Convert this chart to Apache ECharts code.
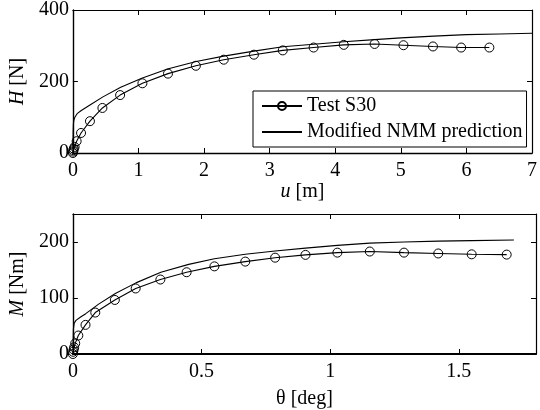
<!DOCTYPE html>
<html>
<head>
<meta charset="utf-8">
<script src="https://cdn.jsdelivr.net/npm/echarts@6/dist/echarts.min.js"></script>
<style>
  html, body { margin: 0; padding: 0; background: #fff; }
  #chart { width: 540px; height: 410px; }
</style>
</head>
<body>
<div id="chart"></div>
<script>
// Horizontal load H [N] against displacement u [m]
const testU = [0, 0.004, 0.008, 0.013, 0.026, 0.057, 0.124, 0.26, 0.45, 0.72, 1.06, 1.45, 1.875, 2.30, 2.76, 3.20, 3.67, 4.13, 4.60, 5.04, 5.49, 5.92, 6.35];
const testH = [0, 4, 8, 12, 17, 33, 56, 89, 126, 162, 195, 222, 244, 261, 275, 287, 295, 302.5, 305, 301.5, 298, 295, 295];
const predU = [0, 0.004, 0.008, 0.015, 0.03, 0.064, 0.128, 0.266, 0.458, 0.729, 1.06, 1.443, 1.88, 2.3, 2.76, 3.2, 3.67, 4.13, 4.6, 5.0, 5.5, 6.0, 6.5, 7.0];
const predH = [0, 60, 82, 92, 100, 110, 119, 135, 157, 184, 210, 235, 256, 271, 285, 297, 304, 311, 317, 322, 327, 331, 333, 335];

// Moment M [Nm] against rotation theta [deg]
const testT = [0, 0.001, 0.003, 0.005, 0.009, 0.021, 0.049, 0.087, 0.163, 0.244, 0.34, 0.442, 0.55, 0.67, 0.786, 0.904, 1.028, 1.154, 1.287, 1.42, 1.55, 1.686];
const testM = [0, 4, 8, 12, 19, 33, 52, 74, 96.5, 117, 133, 146, 156.5, 165, 172, 177, 181, 183, 181, 179.5, 178, 177.5];
const predT = [0, 0.002, 0.005, 0.012, 0.03, 0.05, 0.1, 0.165, 0.245, 0.342, 0.45, 0.55, 0.67, 0.786, 0.904, 1.028, 1.154, 1.287, 1.42, 1.55, 1.714];
const predM = [0, 45, 55, 60, 66, 72, 89, 108, 127, 146, 160, 170, 178, 184, 189, 194, 198, 200, 201.5, 202.5, 203.5];

const seriesNames = ['Test S30', 'Modified NMM prediction'];
const uTicks = { min: 0, max: 7, interval: 1 };
const hTicks = { min: 0, max: 400, interval: 200 };
const tTicks = { min: 0, max: 1.8, interval: 0.5 };
const mTicks = { min: 0, max: 250, interval: 100 };

const FONT = 'Liberation Serif';
const zip = (a, b) => a.map((v, i) => [v, b[i]]);

const textStyle = { fontFamily: FONT, fontSize: 20, color: '#000' };
const nameStyle = Object.assign({}, textStyle, {
  rich: {
    i: { fontFamily: FONT, fontSize: 20, fontStyle: 'italic', color: '#000' },
    n: { fontFamily: FONT, fontSize: 20, color: '#000' }
  }
});

function mainX(grid, range, name, lineWidth, gap) {
  return Object.assign({
    type: 'value', gridIndex: grid, position: 'bottom',
    name: name, nameLocation: 'middle', nameGap: gap, nameTextStyle: nameStyle,
    axisLine: { show: true, onZero: false, lineStyle: { color: '#000', width: lineWidth } },
    axisTick: { show: true, inside: true, length: 5, lineStyle: { color: '#000', width: 1 } },
    axisLabel: Object.assign({ margin: 8, showMaxLabel: range.max % range.interval === 0 }, textStyle),
    splitLine: { show: false }
  }, range);
}
function mirrorX(grid, range) {
  return Object.assign({
    type: 'value', gridIndex: grid, position: 'top',
    axisLine: { show: true, onZero: false, lineStyle: { color: '#000', width: 1.2 } },
    axisTick: { show: true, inside: true, length: 5, lineStyle: { color: '#000', width: 1 } },
    axisLabel: { show: false }, splitLine: { show: false }
  }, range);
}
function mainY(grid, range, name) {
  return Object.assign({
    type: 'value', gridIndex: grid, position: 'left',
    name: name, nameLocation: 'middle', nameGap: 44, nameTextStyle: nameStyle,
    axisLine: { show: true, onZero: false, lineStyle: { color: '#000', width: 1.4 } },
    axisTick: { show: true, inside: true, length: 5, lineStyle: { color: '#000', width: 1 } },
    axisLabel: Object.assign({ margin: 4, showMaxLabel: range.max % range.interval === 0 }, textStyle),
    splitLine: { show: false }
  }, range);
}
function mirrorY(grid, range) {
  return Object.assign({
    type: 'value', gridIndex: grid, position: 'right',
    axisLine: { show: true, onZero: false, lineStyle: { color: '#000', width: 1.2 } },
    axisTick: { show: true, inside: true, length: 5, lineStyle: { color: '#000', width: 1 } },
    axisLabel: { show: false }, splitLine: { show: false }
  }, range);
}

function testSeries(x, y, data) {
  return {
    name: seriesNames[0], type: 'line', xAxisIndex: x, yAxisIndex: y, data: data,
    symbol: 'circle', symbolSize: 9, showSymbol: true,
    lineStyle: { color: '#000', width: 1.1 },
    itemStyle: { color: 'rgba(255,255,255,0)', borderColor: '#000', borderWidth: 1 },
    emphasis: { disabled: true }, animation: false, z: 3
  };
}
function predSeries(x, y, data) {
  return {
    name: seriesNames[1], type: 'line', xAxisIndex: x, yAxisIndex: y, data: data,
    symbol: 'none', showSymbol: false,
    lineStyle: { color: '#000', width: 1.1 },
    itemStyle: { color: 'rgba(0,0,0,0)', borderWidth: 0 },
    emphasis: { disabled: true }, animation: false, z: 2
  };
}

const chart = echarts.init(document.getElementById('chart'), null, { renderer: 'canvas' });
chart.setOption({
  animation: false,
  backgroundColor: '#fff',
  grid: [
    { left: 68, top: 8, width: 468, height: 145 },
    { left: 68, top: 214, width: 468, height: 142 }
  ],
  xAxis: [
    mainX(0, uTicks, '{i|u}{n| [m]}', 1.4, 27),
    mirrorX(0, uTicks),
    mainX(1, tTicks, 'θ [deg]', 2, 35),
    mirrorX(1, tTicks)
  ],
  yAxis: [
    mainY(0, hTicks, '{i|H}{n| [N]}'),
    mirrorY(0, hTicks),
    mainY(1, mTicks, '{i|M}{n| [Nm]}'),
    mirrorY(1, mTicks)
  ],
  legend: {
    data: seriesNames,
    orient: 'vertical',
    left: 253, top: 91,
    padding: [5, 4, 5, 8],
    itemGap: 6,
    itemWidth: 40, itemHeight: 10,
    borderColor: '#000', borderWidth: 1,
    backgroundColor: '#fff',
    textStyle: textStyle,
    selectedMode: false
  },
  series: [
    predSeries(0, 0, zip(predU, predH)),
    testSeries(0, 0, zip(testU, testH)),
    predSeries(2, 2, zip(predT, predM)),
    testSeries(2, 2, zip(testT, testM))
  ]
});
</script>
</body>
</html>
